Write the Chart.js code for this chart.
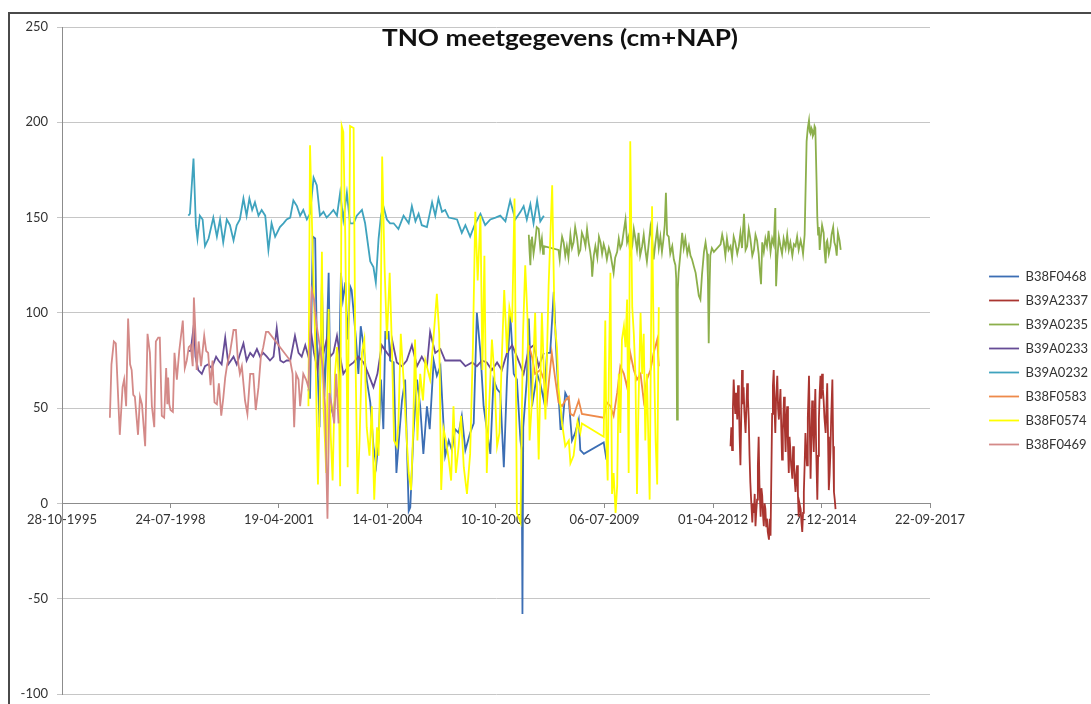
<!DOCTYPE html>
<html><head><meta charset="utf-8">
<script src="https://cdn.jsdelivr.net/npm/chart.js@4.4.0/dist/chart.umd.min.js"></script>
<style>
html,body{margin:0;padding:0;background:#fff;}
#wrap{position:relative;width:1091px;height:704px;overflow:hidden;background:#fff;}
#frame{position:absolute;left:8px;top:12px;width:1200px;height:800px;border-left:2px solid #4a4a4a;border-top:2px solid #4a4a4a;}
canvas{position:absolute;left:0;top:0;}
</style></head><body>
<div id="wrap"><div id="frame"></div><canvas id="c" width="1091" height="704"></canvas></div>
<script>
const TITLE = 'TNO meetgegevens (cm+NAP)';
const X_TICK_LABELS = ['28-10-1995','24-07-1998','19-04-2001','14-01-2004','10-10-2006','06-07-2009','01-04-2012','27-12-2014','22-09-2017'];
const Y_TICKS = [-100,-50,0,50,100,150,200,250];
const SERIES_NAMES = ['B38F0468','B39A2337','B39A0235','B39A0233','B39A0232','B38F0583','B38F0574','B38F0469'];
const SERIES_COLORS = ['#3C6EB4','#AA3530','#8CAF4B','#664C96','#3FA3BE','#EE8A4A','#FFFF00','#D48A88'];

// x values are decimal years, y values in cm+NAP
const B38F0468_YEARS = [2002.04,2002.08,2002.15,2002.21,2002.25,2002.32,2002.38,2002.44,2002.50,2002.55,
2002.60,2002.67,2002.74,2002.80,2002.86,2002.91,2002.97,2003.03,2003.09,2003.13,
2003.19,2003.24,2003.30,2003.36,2003.43,2003.51,2003.60,2003.68,2003.75,2003.81,
2003.87,2003.93,2003.98,2004.06,2004.10,2004.19,2004.26,2004.31,2004.40,2004.48,
2004.57,2004.61,2004.69,2004.78,2004.86,2004.94,2005.03,2005.10,2005.20,2005.28,
2005.37,2005.49,2005.58,2005.66,2005.74,2005.83,2005.91,2006.00,2006.12,2006.21,
2006.29,2006.38,2006.46,2006.54,2006.63,2006.71,2006.80,2006.88,2006.97,2007.05,
2007.13,2007.22,2007.30,2007.39,2007.42,2007.44,2007.46,2007.55,2007.60,2007.68,
2007.81,2007.89,2007.98,2008.06,2008.14,2008.23,2008.31,2008.40,2008.44,2008.52,
2008.61,2008.69,2008.77,2008.86,2008.90,2008.99,2009.49,2009.56];
const B38F0468_VALUES = [60,55,140,139,86,40,116,56,84,121,
51,46,61,54,121,107,116,86,114,112,
98,86,68,93,83,65,53,30,20,33,
65,39,90,90,75,74,16,30,54,65,
-4,-2,37,65,51,26,51,39,75,67,
72,25,33,28,39,37,46,28,37,42,
100,79,51,39,26,65,60,58,19,65,
100,68,65,33,28,-58,40,65,97,51,
68,63,54,79,79,111,72,39,39,58,
54,33,37,44,28,26,32,23];

const B39A2337_YEARS = [2012.69,2012.71,2012.73,2012.75,2012.77,2012.79,2012.81,2012.83,2012.86,2012.88,2012.90,2012.92,2012.94,2012.96,2012.98,
2013.00,2013.02,2013.04,2013.07,2013.09,2013.11,2013.13,2013.15,2013.17,2013.19,2013.21,2013.24,2013.26,2013.28,2013.30,2013.32,2013.34,2013.36,2013.38,2013.40,2013.42,2013.45,2013.47,2013.49,2013.51,2013.53,2013.55,2013.57,2013.59,2013.61,2013.63,2013.66,2013.68,2013.70,2013.72,2013.74,2013.76,2013.78,2013.80,2013.82,2013.84,2013.87,2013.89,2013.91,2013.93,2013.95,2013.97,2013.99,
2014.01,2014.04,2014.06,2014.08,2014.10,2014.12,2014.14,2014.16,2014.18,2014.20,2014.22,2014.25,2014.27,2014.29,2014.31,2014.33,2014.35,2014.37,2014.39,2014.41,2014.43,2014.46,2014.48,2014.50,2014.52,2014.54,2014.56,2014.58,2014.60,2014.62,2014.64,2014.67,2014.69,2014.71,2014.73,2014.75,2014.77,2014.79,2014.81,2014.83,2014.85,2014.88,2014.90,2014.92,2014.94,2014.96,2014.98,
2015.00,2015.02,2015.04,2015.06,2015.09,2015.11,2015.13,2015.15,2015.17,2015.19,2015.21,2015.23,2015.26,2015.28,2015.30,2015.32,2015.34];
const B39A2337_VALUES = [30,40,28,50,65,55,47,58,44,62,54,35,20,45,70,
52,61,48,37,50,63,55,44,25,11,2,-10,0,-5,5,-12,-4,2,20,35,10,-7,8,4,-6,-12,0,-3,-12,-8,-15,-19,-8,-17,15,47,62,70,50,37,55,67,50,44,52,60,40,23,
38,56,40,27,45,51,30,16,35,28,20,13,30,23,12,6,15,20,5,-7,0,-3,-10,-15,-5,6,20,37,28,20,45,67,40,13,35,54,40,27,45,60,30,2,25,44,58,67,55,
68,60,54,45,37,50,63,35,7,15,27,45,65,30,6,2,-3];

const B39A0235_YEARS = [2007.60,2007.62,2007.64,2007.66,2007.68,2007.72,2007.76,2007.80,2007.85,2007.89,2007.93,2007.96,2007.98,
2008.35,2008.38,2008.40,2008.44,2008.48,2008.52,2008.56,2008.60,2008.65,2008.69,2008.73,2008.77,2008.82,2008.86,2008.90,2008.94,2008.99,
2009.03,2009.07,2009.11,2009.15,2009.18,2009.20,2009.24,2009.28,2009.33,2009.37,2009.41,2009.45,2009.49,2009.53,2009.57,2009.62,2009.66,2009.70,2009.74,2009.78,2009.83,2009.87,2009.91,2009.95,2009.99,
2010.04,2010.08,2010.12,2010.16,2010.21,2010.25,2010.29,2010.33,2010.37,2010.41,2010.46,2010.50,2010.54,2010.58,2010.63,2010.67,2010.71,2010.75,2010.79,2010.84,2010.88,2010.92,2010.96,
2011.00,2011.03,2011.06,2011.09,2011.13,2011.17,2011.22,2011.26,2011.30,2011.32,2011.34,2011.36,2011.38,2011.43,2011.47,2011.51,2011.55,2011.60,2011.64,2011.68,2011.72,2011.77,2011.81,2011.85,2011.89,2011.93,2011.97,
2012.02,2012.06,2012.10,2012.12,2012.14,2012.16,2012.18,2012.22,2012.27,2012.44,2012.48,2012.52,2012.56,2012.60,2012.64,2012.69,2012.73,2012.77,2012.81,2012.86,2012.90,2012.94,2012.98,
2013.03,2013.07,2013.11,2013.15,2013.19,2013.24,2013.28,2013.32,2013.36,2013.40,2013.43,2013.46,2013.49,2013.53,2013.57,2013.61,2013.65,2013.70,2013.74,2013.78,2013.82,2013.84,2013.87,2013.91,2013.95,2013.99,
2014.03,2014.08,2014.12,2014.16,2014.20,2014.25,2014.29,2014.33,2014.37,2014.41,2014.46,2014.50,2014.52,2014.56,2014.61,2014.64,2014.67,2014.69,2014.71,2014.73,2014.75,2014.77,2014.79,2014.81,2014.83,2014.86,2014.88,2014.90,2014.92,2014.94,2014.96,
2015.00,2015.04,2015.06,2015.09,2015.11,2015.13,2015.17,2015.21,2015.24,2015.28,2015.31,2015.34,2015.37,2015.40,2015.44,2015.47];
const B39A0235_VALUES = [141,132,125,138,140,131,137,145,144,134,139,131,135,
133,128,133,140,137,130,135,129,141,134,137,145,139,131,133,142,139,
135,144,137,132,127,119,130,135,129,140,137,131,136,133,128,134,131,126,121,129,132,139,134,136,142,
149,137,140,131,135,144,139,133,142,130,135,141,133,127,137,145,139,128,136,144,134,140,132,
139,146,163,141,140,131,135,128,125,118,44,112,121,132,142,134,139,131,135,130,128,124,121,115,109,107,120,
132,137,131,118,84,112,130,134,132,136,141,137,130,139,133,135,129,140,137,131,135,142,134,
152,133,135,144,139,130,133,141,138,131,122,115,137,132,139,135,143,132,139,136,155,114,128,140,135,131,
139,134,141,133,137,130,136,135,140,133,138,134,131,141,190,197,201,195,194,197,196,193,194,198,197,170,150,141,145,133,138,
146,142,133,126,137,138,131,135,141,145,137,135,130,142,138,133];

const B39A0233_YEARS = [1999.01,1999.07,1999.15,1999.19,1999.26,1999.35,1999.43,1999.51,1999.60,1999.71,
1999.77,1999.85,1999.94,2000.02,2000.15,2000.23,2000.40,2000.48,2000.57,2000.65,
2000.74,2000.82,2000.90,2000.99,2001.07,2001.16,2001.24,2001.33,2001.41,2001.49,
2001.58,2001.70,2001.79,2001.87,2001.96,2002.04,2002.10,2002.18,2002.27,2002.33,
2002.42,2002.50,2002.59,2002.67,2002.76,2002.84,2002.92,2003.05,2003.18,2003.30,
2003.43,2003.55,2003.68,2003.78,2003.89,2004.02,2004.10,2004.15,2004.27,2004.40,
2004.52,2004.65,2004.78,2004.90,2005.03,2005.11,2005.24,2005.37,2005.49,2005.62,
2005.74,2005.87,2006.00,2006.17,2006.29,2006.42,2006.54,2006.67,2006.80,2006.92,
2007.05,2007.18,2007.30,2007.47,2007.60,2007.72,2007.85,2007.98];
const B39A0233_VALUES = [80,80,94,77,70,68,72,73,71,77,
75,73,87,73,77,73,84,75,79,77,
81,77,79,77,75,77,92,75,74,75,
75,88,79,77,83,77,91,79,70,83,
79,86,77,79,88,77,68,72,74,77,
74,68,61,68,83,79,77,86,74,72,
75,83,72,77,72,90,79,81,75,75,
75,75,72,74,72,75,74,70,74,70,
79,83,77,68,81,83,72,79];

const B39A0232_YEARS = [1999.01,1999.05,1999.14,1999.20,1999.24,1999.30,1999.37,1999.43,1999.52,1999.64,
1999.73,1999.81,1999.89,1999.98,2000.06,2000.15,2000.23,2000.31,2000.40,2000.48,
2000.55,2000.62,2000.69,2000.78,2000.86,2000.95,2001.03,2001.11,2001.20,2001.32,
2001.41,2001.49,2001.58,2001.66,2001.75,2001.83,2001.91,2002.00,2002.08,2002.17,
2002.25,2002.33,2002.42,2002.50,2002.59,2002.67,2002.76,2002.84,2002.92,2003.01,
2003.09,2003.18,2003.26,2003.39,2003.47,2003.60,2003.68,2003.74,2003.81,2003.87,
2003.93,2004.02,2004.10,2004.19,2004.31,2004.44,2004.57,2004.65,2004.74,2004.82,
2004.90,2005.03,2005.16,2005.24,2005.32,2005.41,2005.49,2005.58,2005.79,2005.91,
2006.00,2006.12,2006.25,2006.38,2006.50,2006.63,2006.76,2006.88,2007.01,2007.13,
2007.26,2007.39,2007.47,2007.55,2007.64,2007.72,2007.81,2007.89,2007.98];
const B39A0232_VALUES = [151,152,181,146,139,151,149,135,139,150,
140,149,137,149,146,138,146,149,160,151,
160,154,158,151,154,151,133,147,140,145,
147,149,150,159,156,151,154,149,152,171,
167,151,153,150,152,154,151,163,149,163,
147,147,151,154,147,127,124,116,139,151,
156,149,147,147,144,151,147,156,148,152,
146,145,158,151,160,153,154,150,149,142,
146,140,147,152,146,149,150,151,148,159,
149,153,156,149,157,147,159,148,151];

const B38F0583_YEARS = [2007.60,2007.68,2007.76,2007.89,2007.98,2008.06,2008.18,2008.27,2008.35,2008.44,
2008.52,2008.61,2008.65,2008.73,2008.86,2008.94,2009.49,2009.57,2009.66,2009.74,
2009.83,2009.91,2010.00,2010.08,2010.16,2010.25,2010.33,2010.42,2010.50,2010.58,
2010.67,2010.75,2010.84,2010.88];
const B38F0583_VALUES = [83,77,68,70,65,54,79,65,53,51,
54,56,47,46,54,47,45,53,51,46,
58,72,68,61,79,70,65,68,54,65,
70,79,86,72];

const B38F0574_YEARS = [2002.04,2002.08,2002.15,2002.21,2002.28,2002.34,2002.38,2002.42,2002.49,2002.55,
2002.60,2002.65,2002.71,2002.76,2002.80,2002.84,2002.88,2002.92,2002.97,2003.03,
2003.09,2003.18,2003.22,2003.28,2003.33,2003.39,2003.45,2003.51,2003.58,2003.64,
2003.70,2003.77,2003.81,2003.85,2003.90,2003.96,2004.02,2004.09,2004.15,2004.20,
2004.27,2004.31,2004.37,2004.44,2004.51,2004.57,2004.63,2004.68,2004.73,2004.79,
2004.86,2004.93,2004.99,2005.05,2005.11,2005.20,2005.28,2005.34,2005.39,2005.45,
2005.51,2005.58,2005.64,2005.70,2005.76,2005.83,2005.89,2005.96,2006.04,2006.12,
2006.19,2006.25,2006.31,2006.38,2006.43,2006.48,2006.54,2006.60,2006.67,2006.73,
2006.80,2006.86,2006.92,2006.98,2007.05,2007.11,2007.18,2007.24,2007.30,2007.39,
2007.45,2007.51,2007.57,2007.62,2007.68,2007.76,2007.85,2007.93,2008.02,2008.10,
2008.19,2008.25,2008.31,2008.35,2008.40,2008.44,2008.52,2008.61,2008.65,2008.73,
2008.83,2008.90,2008.94,2009.49,2009.53,2009.56,2009.59,2009.62,2009.66,2009.70,
2009.74,2009.79,2009.83,2009.87,2009.91,2009.95,2010.00,2010.04,2010.08,2010.12,
2010.16,2010.21,2010.25,2010.29,2010.33,2010.37,2010.42,2010.46,2010.50,2010.54,
2010.58,2010.65,2010.71,2010.75,2010.80,2010.84,2010.88];
const B38F0574_VALUES = [51,188,130,86,10,68,132,51,16,102,
37,12,68,82,68,9,198,195,139,19,
198,197,86,5,33,79,86,40,25,51,
2,40,25,68,182,125,86,121,79,33,
30,42,89,65,37,16,7,37,86,33,
68,54,75,70,65,88,110,89,7,39,
33,23,12,51,16,30,46,19,5,26,
82,153,117,151,70,130,16,51,86,68,
30,37,77,112,79,103,95,160,-5,-10,
86,125,96,33,54,100,23,100,44,114,
167,95,82,60,51,42,30,33,21,25,
43,37,42,35,96,30,12,68,121,5,
16,-5,9,68,37,86,93,82,107,16,
190,103,89,68,5,54,100,68,89,33,
68,2,156,86,33,10,103];

const B38F0469_YEARS = [1997.03,1997.07,1997.13,1997.18,1997.28,1997.35,1997.39,1997.44,1997.49,1997.54,
1997.58,1997.62,1997.66,1997.74,1997.79,1997.84,1997.92,1997.98,1998.04,1998.09,
1998.15,1998.19,1998.25,1998.29,1998.34,1998.40,1998.45,1998.48,1998.50,1998.53,
1998.56,1998.62,1998.66,1998.72,1998.78,1998.87,1998.92,1998.97,1999.02,1999.07,
1999.12,1999.15,1999.19,1999.22,1999.27,1999.33,1999.41,1999.46,1999.51,1999.57,
1999.62,1999.67,1999.73,1999.78,1999.84,1999.89,1999.94,1999.99,2000.06,2000.15,
2000.21,2000.26,2000.31,2000.36,2000.44,2000.50,2000.57,2000.65,2000.71,2000.78,
2000.84,2000.90,2000.97,2001.03,2001.58,2001.64,2001.68,2001.73,2001.79,2001.83,
2001.91,2001.98,2002.04,2002.08,2002.12,2002.18,2002.25,2002.33,2002.40,2002.46,
2002.52,2002.57,2002.63,2002.69,2002.74,2002.80];
const B38F0469_VALUES = [45,73,85,84,36,61,65,51,97,73,
70,57,56,36,56,52,30,89,79,51,
40,85,87,87,46,45,71,52,66,52,
49,48,79,65,80,96,71,75,82,83,
72,108,89,70,85,72,88,80,79,62,
75,53,52,63,46,55,66,73,79,91,
91,75,68,72,54,47,68,68,49,61,
77,82,90,90,75,68,40,68,65,51,
68,65,61,86,112,107,93,82,72,51,
-8,58,51,42,68,42];

const SERIES_YEARS = [B38F0468_YEARS,B39A2337_YEARS,B39A0235_YEARS,B39A0233_YEARS,B39A0232_YEARS,B38F0583_YEARS,B38F0574_YEARS,B38F0469_YEARS];
const SERIES_VALUES = [B38F0468_VALUES,B39A2337_VALUES,B39A0235_VALUES,B39A0233_VALUES,B39A0232_VALUES,B38F0583_VALUES,B38F0574_VALUES,B38F0469_VALUES];

function dateToYear(s){
  const [d,m,y] = s.split('-').map(Number);
  const t = Date.UTC(y,m-1,d), t0 = Date.UTC(y,0,1), t1 = Date.UTC(y+1,0,1);
  return y + (t - t0) / (t1 - t0);
}
const X_TICK_VALUES = X_TICK_LABELS.map(dateToYear);
const FONT = "Lato, 'Open Sans', 'DejaVu Sans', sans-serif";
const PLOT_RIGHT = 930;
const PAD_RIGHT = -7;

const titlePlugin = {
  id: 'titleText',
  afterDraw(chart){
    const ctx = chart.ctx;
    ctx.save();
    ctx.font = 'bold 23px ' + FONT;
    ctx.fillStyle = '#111';
    ctx.textAlign = 'center';
    ctx.textBaseline = 'middle';
    ctx.translate(560, 39);
    ctx.scale(1.14, 1);
    ctx.fillText(TITLE, 0, 0);
    ctx.restore();
  }
};

const datasets = SERIES_NAMES.map((name, i) => ({
  label: name,
  data: SERIES_YEARS[i].map((x, k) => ({x: x, y: SERIES_VALUES[i][k]})),
  borderColor: SERIES_COLORS[i],
  backgroundColor: SERIES_COLORS[i],
  borderWidth: 1.8,
  pointRadius: 0,
  pointHoverRadius: 0,
  tension: 0,
  fill: false,
  order: SERIES_NAMES.length - i
}));

new Chart(document.getElementById('c'), {
  type: 'line',
  data: { datasets: datasets },
  plugins: [titlePlugin],
  options: {
    responsive: false,
    animation: false,
    devicePixelRatio: 1,
    events: [],
    layout: { padding: { left: 10, right: PAD_RIGHT, top: 27, bottom: 10 } },
    plugins: {
      tooltip: { enabled: false },
      title: { display: false },
      legend: {
        position: 'right',
        align: 'center',
        labels: {
          usePointStyle: true,
          pointStyle: 'line',
          pointStyleWidth: 30,
          padding: 11,
          color: '#333',
          font: { family: FONT, size: 13 },
          sort: (a, b) => a.datasetIndex - b.datasetIndex
        }
      }
    },
    scales: {
      x: {
        type: 'linear',
        position: { y: 0 },
        min: X_TICK_VALUES[0],
        max: X_TICK_VALUES[X_TICK_VALUES.length - 1],
        afterBuildTicks: s => { s.ticks = X_TICK_VALUES.map(v => ({ value: v })); },
        ticks: {
          autoSkip: false, maxRotation: 0, minRotation: 0, padding: 5,
          color: '#333', font: { family: FONT, size: 13 },
          callback: (v, i) => X_TICK_LABELS[i]
        },
        grid: { drawOnChartArea: false, drawTicks: true, tickLength: 4, color: '#8c8c8c' },
        border: { display: true, color: '#8c8c8c', width: 1 }
      },
      y: {
        type: 'linear',
        position: 'left',
        min: Y_TICKS[0],
        max: Y_TICKS[Y_TICKS.length - 1],
        afterBuildTicks: s => { s.ticks = Y_TICKS.map(v => ({ value: v })); },
        afterFit: s => { s.width = 52; s.paddingBottom = 8; s.paddingTop = 8; },
        ticks: { padding: 9, color: '#333', font: { family: FONT, size: 13 }, callback: v => String(v) },
        grid: { color: '#c6c6c6', drawTicks: true, tickLength: 5 },
        border: { display: true, color: '#8c8c8c', width: 1 }
      },
      pad: {
        type: 'linear',
        position: 'right',
        display: true,
        ticks: { display: false },
        grid: { display: false },
        border: { display: false },
        afterFit: s => { s.width = Math.max(0, s.chart.width - PAD_RIGHT - s.chart.legend.width - PLOT_RIGHT); }
      }
    }
  }
});
</script>
</body></html>
